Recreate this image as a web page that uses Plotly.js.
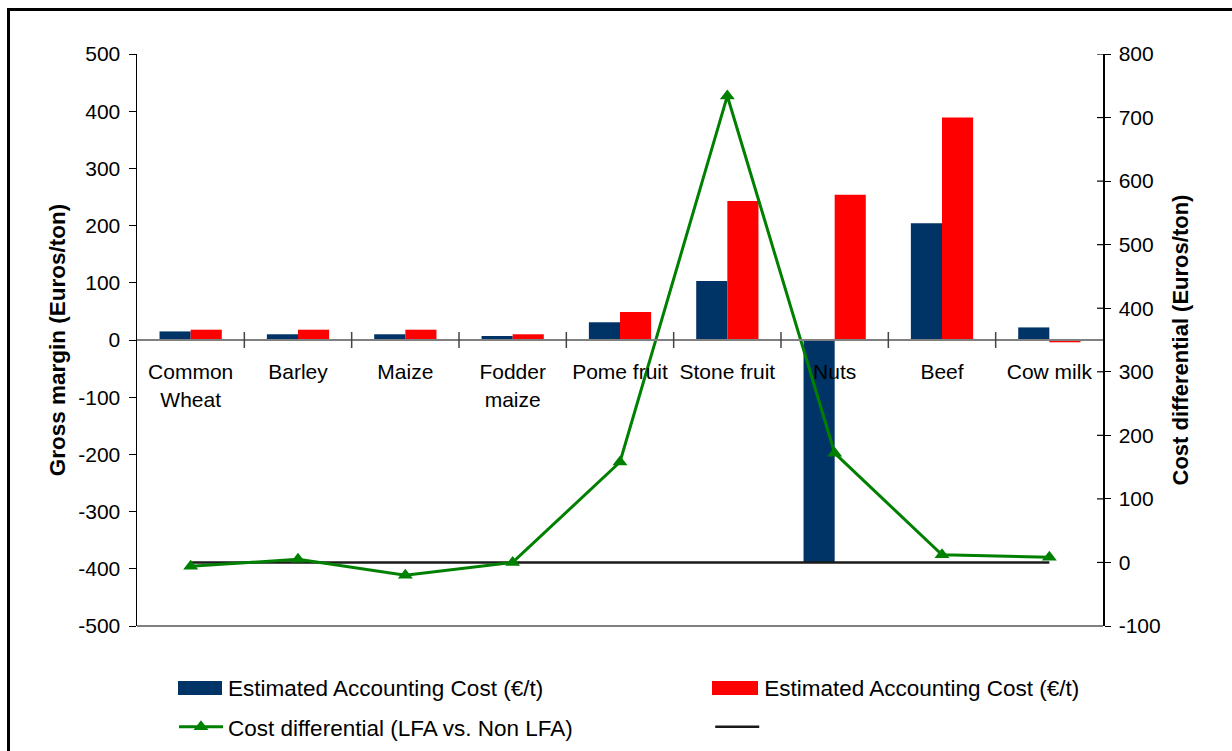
<!DOCTYPE html>
<html><head><meta charset="utf-8">
<script src="https://cdn.plot.ly/plotly-3.0.1.min.js"></script>
<style>
body{margin:0;background:#fff}
#chart{position:absolute;left:0;top:0;width:1232px;height:751px}
#frame{position:absolute;left:7px;top:8px;width:1240px;height:760px;border-left:3px solid #000;border-top:3px solid #000;pointer-events:none}
</style>
</head><body><div id="chart"></div><div id="frame"></div>
<script>
// ---- data ----
const categories = ['Common<br>Wheat','Barley','Maize','Fodder<br>maize','Pome fruit','Stone fruit','Nuts','Beef','Cow milk'];
const estimatedCostA = [15, 10, 10, 7, 31, 103, -388, 204, 22];   // navy bars (left axis)
const estimatedCostB = [18, 18, 18, 10, 49, 243, 254, 389, -4];   // red bars (left axis)
const costDifferential = [-6, 5, -20, 0, 158, 734, 172, 12, 8];   // green line (right axis)
const baseline = [0, 0, 0, 0, 0, 0, 0, 0, 0];                      // black line (right axis)
const leftTicks = [-500,-400,-300,-200,-100,0,100,200,300,400,500];
const rightTicks = [-100,0,100,200,300,400,500,600,700,800];

const FONT = 'Liberation Sans, Arial, sans-serif';
const NAVY = '#003366', RED = '#FF0000';

const traces = [
  {type:'bar', x:categories, y:estimatedCostA, name:'Estimated Accounting Cost (€/t)',
   marker:{color:NAVY}, legend:'legend'},
  {type:'bar', x:categories, y:estimatedCostB, name:'Estimated Accounting Cost (€/t)',
   marker:{color:RED}, legend:'legend2'},
  {type:'scatter', mode:'lines', x:categories, y:baseline, yaxis:'y2', name:' ',
   line:{color:'#1a1a1a', width:2.5}, legend:'legend4'},
  {type:'scatter', mode:'lines+markers', x:categories, y:costDifferential, yaxis:'y2',
   name:'Cost differential (LFA vs. Non LFA)',
   line:{color:'#008000', width:3}, marker:{symbol:'triangle-up', size:13, color:'#008000'},
   legend:'legend3'}
];

// plot area in pixels: x 137..1103, y 54..626
const PX = v => (v - 137) / 966;
const PY = v => (626 - v) / 572;

const shapes = [];
// cross ticks between categories on the zero line
for (let i = 0; i < categories.length - 1; i++) {
  shapes.push({type:'line', xref:'x', yref:'y', x0:i+0.5, x1:i+0.5, ysizemode:'pixel', yanchor:0,
    y0:-8, y1:8, line:{color:'#444', width:1.5}});
}
// inner halves of right-axis ticks
rightTicks.forEach(v => shapes.push({type:'line', xref:'paper', yref:'y2', xsizemode:'pixel', xanchor:1,
  x0:-6, x1:0, y0:v, y1:v, line:{color:'#000', width:1.2}}));
// bottom edge of plot area
shapes.push({type:'line', xref:'paper', yref:'paper', x0:0, x1:1, y0:0, y1:0, line:{color:'#808080', width:2}});
// wide legend swatches for the bar series
shapes.push({type:'rect', xref:'paper', yref:'paper', x0:PX(178), x1:PX(222), y0:PY(695), y1:PY(681), fillcolor:NAVY, line:{width:0}});
shapes.push({type:'rect', xref:'paper', yref:'paper', x0:PX(712), x1:PX(758), y0:PY(695), y1:PY(681), fillcolor:RED, line:{width:0}});

const legFont = {family:FONT, size:22.5, color:'#000'};
function leg(x, y){ return {x:x, y:y, xanchor:'left', yanchor:'middle', orientation:'v', font:legFont, bgcolor:'rgba(0,0,0,0)', itemwidth:44}; }

const layout = {
  width:1232, height:751,
  margin:{l:137, r:129, t:54, b:125, autoexpand:false},
  paper_bgcolor:'#fff', plot_bgcolor:'#fff',
  font:{family:FONT, size:21, color:'#000'},
  barmode:'group', bargap:0.42, bargroupgap:0,
  showlegend:true,
  xaxis:{type:'category', anchor:'free', position:0.5, showline:true, linecolor:'#808080', linewidth:2,
    ticks:'', showgrid:false, zeroline:false, tickfont:{family:FONT, size:21}, ticklabelstandoff:13,
    range:[-0.5, categories.length-0.5]},
  yaxis:{range:[-500,500], tickvals:leftTicks, ticktext:leftTicks.map(String), showline:true, linecolor:'#000', linewidth:1.5,
    ticks:'outside', ticklen:7, tickcolor:'#000', showgrid:false, zeroline:false, ticklabelstandoff:4,
    title:{text:'<b>Gross margin (Euros/ton)</b>', font:{family:FONT, size:22.5}, standoff:6}},
  yaxis2:{range:[-100,800], tickvals:rightTicks, ticktext:rightTicks.map(String), overlaying:'y', side:'right', showline:true, linecolor:'#000', linewidth:1.5,
    ticks:'outside', ticklen:6, tickcolor:'#000', showgrid:false, zeroline:false, ticklabelstandoff:4,
    title:{text:'<b>Cost differential (Euros/ton)</b>', font:{family:FONT, size:22}, standoff:13}},
  legend: leg(0.0383, -0.108),
  legend2: leg(0.5934, -0.108),
  legend3: leg(0.0383, -0.177),
  legend4: leg(0.5934, -0.177),
  shapes: shapes
};

Plotly.newPlot('chart', traces, layout, {displayModeBar:false, staticPlot:true});
</script>
</body></html>
